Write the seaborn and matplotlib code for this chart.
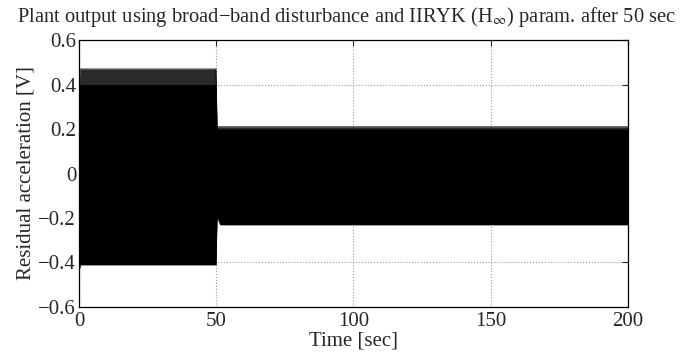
import numpy as np
import pandas as pd
import matplotlib
matplotlib.use("Agg")
import matplotlib.pyplot as plt
import seaborn as sns

# Envelope of the dense residual signal
time_sec = [0, 0.4, 10, 20, 30, 40, 49.9, 50.3, 51.5, 60, 80, 100, 120, 140, 160, 180, 200]
upper_v = [0.40, 0.47, 0.47, 0.47, 0.47, 0.47, 0.47, 0.21, 0.21, 0.21, 0.21, 0.21, 0.21, 0.21, 0.21, 0.21, 0.21]
lower_v = [-0.45, -0.41, -0.41, -0.41, -0.41, -0.41, -0.41, -0.19, -0.23, -0.23, -0.23, -0.23, -0.23, -0.23, -0.23, -0.23, -0.23]
# solid core (the spikes above it look lighter)
core_upper = [0.40, 0.40, 0.40, 0.40, 0.40, 0.40, 0.40, 0.20, 0.20, 0.20, 0.20, 0.20, 0.20, 0.20, 0.20, 0.20, 0.20]

x_ticks = [0, 50, 100, 150, 200]
y_ticks = [-0.6, -0.4, -0.2, 0, 0.2, 0.4, 0.6]

sns.set_style("white")
plt.rcParams['font.family'] = ['Liberation Serif', 'DejaVu Serif']
plt.rcParams['mathtext.fontset'] = 'stix'

df = pd.DataFrame({'t': time_sec, 'up': upper_v, 'lo': lower_v, 'core': core_upper})

fig = plt.figure(figsize=(6.81, 3.52), dpi=100)
ax = fig.add_axes([0.116, 0.128, 0.806, 0.758])

ax.fill_between(df['t'], df['lo'], df['up'], color='#2a2a2a', lw=0, zorder=2)
ax.fill_between(df['t'], df['lo'], df['core'], color='black', lw=0, zorder=3)
sns.lineplot(data=df, x='t', y='up', color='black', lw=0.6, ax=ax, zorder=4)
sns.lineplot(data=df, x='t', y='lo', color='black', lw=0.6, ax=ax, zorder=4)

ax.set_xlim(0, 200)
ax.set_ylim(-0.6, 0.6)
ax.set_xticks(x_ticks)
ax.set_yticks(y_ticks)
ax.set_yticklabels(['\u22120.6', '\u22120.4', '\u22120.2', '0', '0.2', '0.4', '0.6'])
ax.set_xticklabels([str(v) for v in x_ticks])
ax.grid(True, linestyle=':', color='#999999', lw=0.8, zorder=0)
ax.set_axisbelow(True)
ax.tick_params(direction='in', top=True, right=True, length=4, labelsize=15)
ax.tick_params(axis='x', pad=4)
ax.tick_params(axis='y', pad=2)
for s in ax.spines.values():
    s.set_color('black')
    s.set_linewidth(0.9)

ax.set_xlabel('Time [sec]', fontsize=15, labelpad=0)
ax.set_ylabel('Residual acceleration [V]', fontsize=15, labelpad=2)
fig.text(346 / 681, 0.9375,
         'Plant output using broad\u2212band disturbance and IIRYK (H$_\\infty$) param. after 50 sec',
         fontsize=14.8, ha='center', va='baseline')

fig.savefig('out.png', dpi=100)
